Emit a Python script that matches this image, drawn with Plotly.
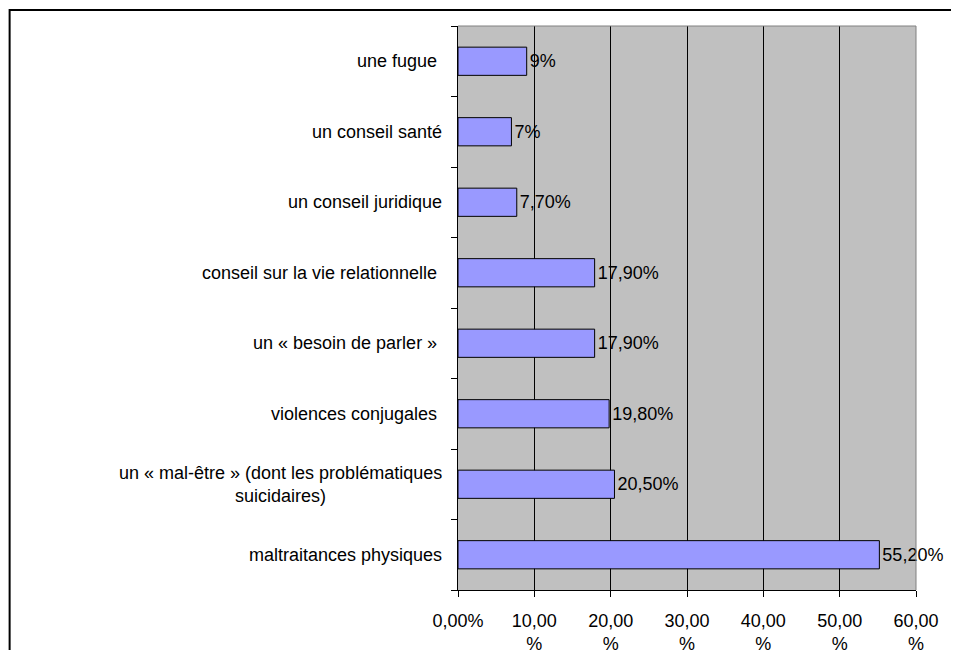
import plotly.graph_objects as go

categories = [
    "une fugue ",
    "un conseil santé",
    "un conseil juridique",
    "conseil sur la vie relationnelle ",
    "un « besoin de parler » ",
    "violences conjugales ",
    "un « mal-être » (dont les problématiques<br>suicidaires)",
    "maltraitances physiques",
]
values = [9, 7, 7.7, 17.9, 17.9, 19.8, 20.5, 55.2]
value_labels = ["9%", "7%", "7,70%", "17,90%", "17,90%", "19,80%", "20,50%", "55,20%"]
x_tickvals = [0, 10, 20, 30, 40, 50, 60]
x_ticktext = ["0,00%", "10,00<br>%", "20,00<br>%", "30,00<br>%", "40,00<br>%", "50,00<br>%", "60,00<br>%"]

FONT = "Liberation Sans, Arial, sans-serif"
ids = list(range(len(categories)))

fig = go.Figure()
fig.add_trace(go.Bar(
    y=ids, x=values, orientation="h",
    marker=dict(color="#9999FF", line=dict(color="black", width=1)),
    text=value_labels, textposition="outside", cliponaxis=False,
    textfont=dict(family=FONT, size=18, color="black"),
    hoverinfo="skip",
))

for i, c in enumerate(categories):
    fig.add_annotation(
        x=0, xref="paper", y=i, yref="y", text=c, showarrow=False,
        xanchor="right", yanchor="middle", xshift=-14, align="center",
        font=dict(family=FONT, size=18, color="black"),
    )

fig.update_layout(
    width=959, height=650,
    margin=dict(l=450, r=51, t=18, b=68, autoexpand=False),
    paper_bgcolor="white", plot_bgcolor="#C0C0C0",
    showlegend=False, bargap=0.6,
    font=dict(family=FONT, size=18, color="black"),
    xaxis=dict(
        range=[0, 60], tickvals=x_tickvals, ticktext=x_ticktext,
        showgrid=True, gridcolor="black", gridwidth=1,
        showline=True, linecolor="black", linewidth=1,
        ticks="outside", ticklen=6, tickcolor="black",
        ticklabelstandoff=8, zeroline=False, fixedrange=True, automargin=False,
    ),
    yaxis=dict(
        type="linear", range=[len(categories) - 0.5, -0.5],
        tickvals=[i - 0.5 for i in range(len(categories) + 1)],
        showticklabels=False, showgrid=False,
        showline=True, linecolor="black", linewidth=1,
        ticks="outside", ticklen=6, tickcolor="black",
        zeroline=False, fixedrange=True, automargin=False,
    ),
    shapes=[
        dict(type="line", xref="paper", yref="paper", x0=1, x1=1, y0=0, y1=1,
             line=dict(color="#808080", width=1)),
        dict(type="line", xref="paper", yref="paper", x0=0, x1=1, y0=1, y1=1,
             line=dict(color="#808080", width=1)),
        dict(type="rect", xref="paper", yref="paper", x0=-0.979, x1=2, y0=-1, y1=1.0284,
             line=dict(color="black", width=2), fillcolor="rgba(0,0,0,0)", layer="above"),
    ],
)

fig.write_html("out.html")
